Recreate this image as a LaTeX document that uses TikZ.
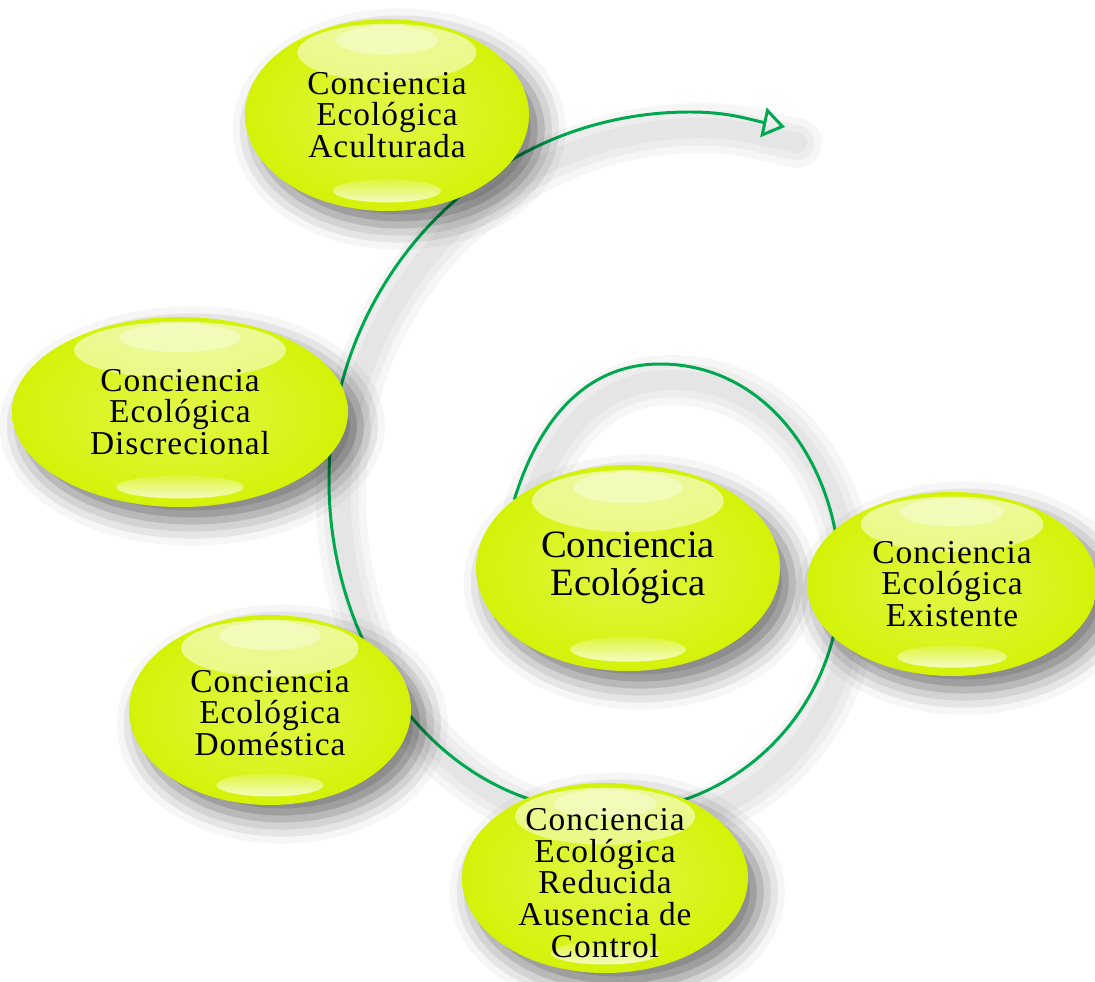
\documentclass[tikz,border=0pt]{standalone}
\usepackage{fontspec}
\setmainfont{Liberation Serif}
\newfontfamily\bubblefont[LetterSpace=3]{Liberation Serif}
\usetikzlibrary{arrows.meta, shapes.geometric, shadows.blur, calc, backgrounds}
\definecolor{limeouter}{RGB}{212,242,8}
\definecolor{limeinner}{RGB}{226,247,72}
\definecolor{spiralgreen}{RGB}{0,168,80}
\tikzset{
  bubble/.style 2 args={ellipse, inner sep=0pt, outer sep=0pt, minimum width=#1cm, minimum height=#2cm,
    inner color=limeinner, outer color=limeouter,
    blur shadow={shadow xshift=3.5pt, shadow yshift=-4pt, shadow blur radius=7pt, shadow opacity=55},
    path picture={
      \shade[top color=white, bottom color=limeinner, opacity=0.6]
        ([yshift=-0.175*#2cm]path picture bounding box.north) ellipse [x radius=0.315*#1cm, y radius=0.15*#2cm];
      \fill[white, opacity=0.35]
        ([yshift=-0.11*#2cm]path picture bounding box.north) ellipse [x radius=0.18*#1cm, y radius=0.075*#2cm];
      \shade[top color=limeinner, bottom color=white, opacity=0.75]
        ([yshift=0.105*#2cm]path picture bounding box.south) ellipse [x radius=0.19*#1cm, y radius=0.06*#2cm];
    }},
  txt/.style={align=center, inner sep=0pt, font=\bubblefont\fontsize{9.5}{9}\selectfont},
  bigtxt/.style={align=center, inner sep=0pt, font=\fontsize{11}{10.8}\selectfont},
  spiralline/.style={draw=spiralgreen, line width=0.85pt, -{Triangle[open, length=6.3pt, width=8.5pt]}},
  curveshadow/.style={draw=black, opacity=0.035, line cap=round, transform canvas={shift={(0.12,-0.16)}}}
}

\begin{document}
\begin{tikzpicture}
  \useasboundingbox (0,0) rectangle (10.95,9.81);

  \node[bubble={2.84}{1.92}] (acu) at (3.87,8.66) {};
  \node[bubble={3.36}{1.90}] (dis) at (1.80,5.69) {};
  \node[bubble={2.82}{1.90}] (dom) at (2.70,2.71) {};
  \node[bubble={3.04}{2.06}] (cen) at (6.28,4.13) {};
  \node[bubble={2.90}{1.84}] (exi) at (9.52,3.97) {};
  \node[bubble={2.86}{1.90}] (red) at (6.05,1.03) {};

  \node[txt] (acu-t) at (acu) {Conciencia\\Ecológica\\Aculturada};
  \node[txt] (dis-t) at (dis) {Conciencia\\Ecológica\\Discrecional};
  \node[txt] (dom-t) at ([yshift=-0.03cm]dom) {Conciencia\\Ecológica\\Doméstica};
  \node[bigtxt] (cen-t) at (cen) {Conciencia\\Ecológica};
  \node[txt] (exi-t) at (exi) {Conciencia\\Ecológica\\Existente};
  \node[txt] (red-t) at ([yshift=-0.05cm]red) {Conciencia\\Ecológica\\Reducida\\Ausencia de\\Control};

  % turning points of the spiral
  \coordinate (sp-top) at (6.60,6.17);
  \coordinate (sp-right) at (8.40,4.00);
  \coordinate (sp-bottom) at (6.10,1.69);
  \coordinate (sp-left) at (3.29,5.00);
  \coordinate (sp-up) at (6.90,8.69);
  \coordinate (tip) at (7.85,8.54);
  \def\spiral{(cen.149) to[out=73,in=180] (sp-top) to[out=0,in=90] (sp-right) to[out=-90,in=0] (sp-bottom)
    to[out=180,in=-90] (sp-left) to[out=90,in=180] (sp-up) to[out=0,in=168] (tip)}

  \begin{scope}[on background layer]
    \foreach \w in {0.5,0.35,0.2}
      \draw[curveshadow, line width=\w cm] \spiral;
    \draw[spiralline] \spiral;
  \end{scope}
\end{tikzpicture}
\end{document}
